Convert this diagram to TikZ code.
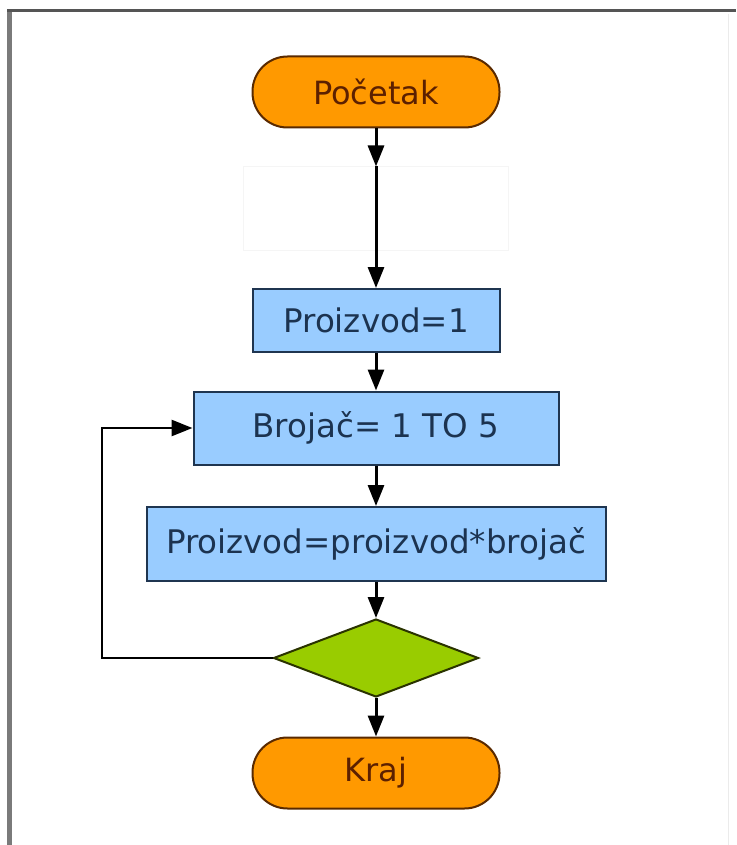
\documentclass[tikz,border=0pt]{standalone}
\usepackage{fontspec}
\setmainfont{DejaVu Sans}
\usetikzlibrary{shapes.geometric,arrows.meta}

\definecolor{termfill}{HTML}{FF9900}
\definecolor{termline}{HTML}{5A2A00}
\definecolor{termtext}{HTML}{5C2000}
\definecolor{procfill}{HTML}{99CCFF}
\definecolor{procline}{HTML}{1F3550}
\definecolor{proctext}{HTML}{1C3350}
\definecolor{decfill}{HTML}{99CC00}
\definecolor{decline}{HTML}{2A3300}
\definecolor{framedark}{HTML}{555555}
\definecolor{framegrey}{HTML}{7A7A7A}

\tikzset{
  terminal/.style={draw=termline, fill=termfill, line width=2pt,
    rounded corners=35pt, minimum width=247pt, minimum height=71pt,
    inner sep=0pt, text=termtext, font=\fontsize{32}{38}\selectfont},
  process/.style={draw=procline, fill=procfill, line width=2pt,
    inner sep=0pt, text=proctext, font=\fontsize{32.5}{38}\selectfont},
  blankbox/.style={draw=black!4, fill=white, line width=1pt, inner sep=0pt,
    minimum width=265pt, minimum height=83pt},
  decision/.style={diamond, draw=decline, fill=decfill, line width=2pt,
    inner sep=0pt, minimum width=205pt, minimum height=78pt},
  flow/.style={line width=3pt, draw=black,
    -{Triangle[length=21pt,width=16pt]}},
}

\begin{document}
\begin{tikzpicture}[x=1pt, y=-1pt]
  \useasboundingbox (0,0) rectangle (736,845);
  \fill[white] (0,0) rectangle (736,845);

  % window frame
  \fill[framegrey] (7,9) rectangle (12,845);
  \fill[framedark] (7,9) rectangle (736,12);
  \draw[black!8, line width=1pt] (728,14) -- (728,845);

  % flowchart nodes, all centred on one vertical axis
  \node[terminal] (start) at (376,92) {Početak};
  \node[blankbox] (blank) at (376,208.5) {};
  \node[process, minimum width=247pt, minimum height=63pt] (init) at (376,320.5) {Proizvod=1};
  \node[process, minimum width=365pt, minimum height=73pt] (loop) at (376,428) {Brojač= 1 TO 5};
  \node[process, minimum width=459pt, minimum height=74pt] (body) at (376,544) {Proizvod=proizvod*brojač};
  \node[decision] (test) at (376,658) {};
  \node[terminal] (stop) at (376,773) {Kraj};

  \coordinate (back) at (102,658);

  % connectors
  \draw[flow] (start.south) -- (blank.north);
  \draw[flow] (blank.north) -- (init.north);
  \draw[flow] (init.south) -- (loop.north);
  \draw[flow] (loop.south) -- (body.north);
  \draw[flow] (body.south) -- (test.north);
  \draw[flow] (test.south) -- (stop.north);
  \draw[flow, line width=2.6pt] (test.west) -- (back) |- (loop.west);
\end{tikzpicture}
\end{document}
